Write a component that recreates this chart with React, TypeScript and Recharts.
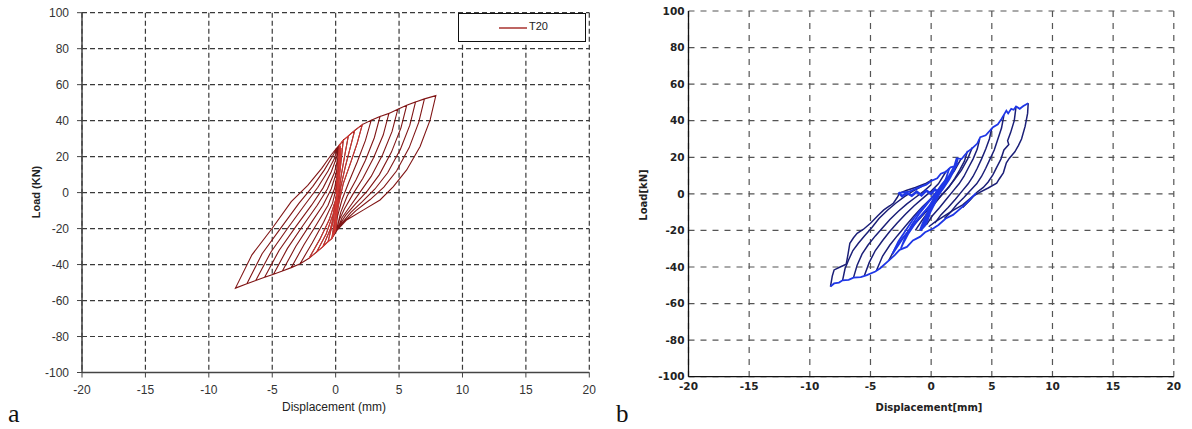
import React from 'react';
import { LineChart, Line, XAxis, YAxis, CartesianGrid, Legend } from 'recharts';

type P = [number, number];

// ---------- shared axis ticks ----------
const xTicks = [-20, -15, -10, -5, 0, 5, 10, 15, 20];
const yTicks = [-100, -80, -60, -40, -20, 0, 20, 40, 60, 80, 100];

// ---------- panel a : T20 ----------
const seriesNameA = 'T20';
const upperEnvA: P[] = [[0.3, 26.5], [0.6, 29], [1.0, 31.5], [1.5, 34.5], [2.1, 37.8], [2.8, 40.2], [3.5, 42.3], [4.2, 44.0], [4.9, 46.3], [5.6, 48.5], [6.3, 50.4], [7.0, 52.1], [7.9, 53.9]];
const lowerEnvA: P[] = [[-0.3, -25.5], [-0.6, -27.3], [-1.0, -30], [-1.5, -33], [-2.1, -36.5], [-2.8, -39.5], [-3.5, -41.7], [-4.2, -43.6], [-4.9, -45.4], [-5.6, -47.1], [-6.3, -48.9], [-7.0, -50.7], [-7.9, -53.1]];

const unloadA01: P[] = [[0.2, 14], [0.1, 0], [0, -12], [-0.1, -21]];
const unloadA02: P[] = [[0.45, 19], [0.25, 6], [0.1, -6], [-0.05, -20]];
const unloadA03: P[] = [[0.75, 22], [0.45, 10], [0.2, -2], [0.05, -12], [-0.05, -21]];
const unloadA04: P[] = [[1.15, 25], [0.75, 14], [0.4, 3], [0.15, -8], [0, -21]];
const unloadA05: P[] = [[1.7, 27.5], [1.15, 16], [0.6, 5], [0.25, -6], [0.05, -14], [0, -21]];
const unloadA06: P[] = [[2.35, 29], [1.7, 17], [1.05, 6], [0.5, -4], [0.15, -13], [0, -21]];
const unloadA07: P[] = [[3.05, 30.5], [2.35, 18], [1.6, 7], [0.9, -2], [0.4, -11], [0.05, -21]];
const unloadA08: P[] = [[3.75, 32], [3.0, 19.5], [2.15, 8], [1.35, -1], [0.7, -9], [0.3, -15], [0.05, -21]];
const unloadA09: P[] = [[4.45, 34], [3.7, 21], [2.8, 9], [1.9, 0], [1.1, -8], [0.5, -14], [0.1, -21]];
const unloadA10: P[] = [[5.15, 36], [4.4, 22.5], [3.45, 10], [2.5, 1], [1.6, -6], [0.8, -12.5], [0.3, -18], [0.1, -21]];
const unloadA11: P[] = [[5.85, 37.5], [5.1, 24], [4.1, 11], [3.1, 2], [2.1, -5], [1.2, -11], [0.5, -17], [0.1, -21]];
const unloadA12: P[] = [[6.55, 39], [5.8, 25], [4.8, 12], [3.8, 3], [2.7, -4], [1.6, -10], [0.7, -16], [0.1, -21]];
const unloadA13: P[] = [[7.45, 40.4], [6.66, 25.6], [5.6, 12.6], [4.55, 3.3], [3.5, -4.1], [2.2, -9.6], [0.87, -15.2], [0.1, -21]];

const reloadA01: P[] = [[0, -12], [0.2, 4], [0.35, 24.5]];
const reloadA02: P[] = [[-0.2, -16], [0.1, -2], [0.3, 12], [0.4, 24.5]];
const reloadA03: P[] = [[-0.4, -20], [0, -8], [0.25, 6], [0.4, 24.5]];
const reloadA04: P[] = [[-0.75, -23], [-0.2, -12], [0.15, 0], [0.3, 12], [0.4, 24.5]];
const reloadA05: P[] = [[-1.25, -26], [-0.5, -15], [0, -4], [0.25, 8], [0.35, 24.5]];
const reloadA06: P[] = [[-1.85, -28], [-0.95, -16.5], [-0.25, -6], [0.1, 4], [0.25, 14], [0.35, 24.5]];
const reloadA07: P[] = [[-2.5, -29], [-1.45, -17], [-0.6, -7], [-0.1, 2], [0.15, 11], [0.3, 24.5]];
const reloadA08: P[] = [[-3.15, -30], [-2.0, -17.5], [-1.0, -7], [-0.35, 2], [0.05, 11], [0.2, 18], [0.3, 24.5]];
const reloadA09: P[] = [[-3.8, -31], [-2.55, -18], [-1.45, -7], [-0.65, 2], [-0.1, 11], [0.15, 18.5], [0.25, 24.5]];
const reloadA10: P[] = [[-4.45, -32], [-3.1, -18.5], [-1.9, -7], [-1.0, 2.5], [-0.35, 11.5], [0.05, 19], [0.2, 24.5]];
const reloadA11: P[] = [[-5.1, -33], [-3.7, -19], [-2.4, -6.5], [-1.4, 3], [-0.6, 12], [-0.1, 19], [0.15, 24.5]];
const reloadA12: P[] = [[-5.8, -34], [-4.3, -19.5], [-2.9, -6], [-1.8, 3.5], [-0.9, 12.5], [-0.3, 19.5], [0.1, 24.5]];
const reloadA13: P[] = [[-6.6, -34.6], [-5.0, -19.8], [-3.5, -5], [-2.2, 4], [-1.1, 13.5], [-0.4, 20.5], [0.05, 24.5], [0.6, 29], [1.0, 31.5]];

const unloadsA = [unloadA01, unloadA02, unloadA03, unloadA04, unloadA05, unloadA06, unloadA07, unloadA08, unloadA09, unloadA10, unloadA11, unloadA12, unloadA13];
const reloadsA = [reloadA01, reloadA02, reloadA03, reloadA04, reloadA05, reloadA06, reloadA07, reloadA08, reloadA09, reloadA10, reloadA11, reloadA12, reloadA13];

// ---------- panel b ----------
const blueUnload9: P[] = [[8.0, 49.6], [7.95, 44], [7.75, 37], [7.45, 30], [7.2, 26.5], [6.9, 23], [6.45, 19.5], [6.2, 17], [5.95, 11.5], [5.6, 8], [5.4, 5.8], [4.7, 3.2], [4.0, 0.8], [3.4, -1.5], [2.6, -6], [1.8, -9], [1.0, -12.4], [0.3, -15.5], [-0.2, -18]];
const blueUnload8: P[] = [[7.0, 47.8], [6.85, 40], [6.55, 33.5], [6.3, 29], [6.4, 27], [6.0, 24], [5.75, 19], [5.4, 14.5], [5.1, 10.5], [4.7, 6.5], [4.3, 3.5], [3.8, 1.0], [3.2, -3.5], [2.6, -7.5]];
const blueUnload7: P[] = [[6.0, 43], [5.8, 36], [5.5, 30], [5.2, 24], [4.85, 19], [4.5, 14], [4.15, 9.5], [3.75, 5.5], [3.25, 2], [2.7, -2], [2.1, -6], [1.6, -10], [1.1, -13.5]];
const blueUnload6: P[] = [[5.0, 36], [4.8, 30], [4.5, 24.5], [4.15, 19], [3.8, 14], [3.45, 9.5], [3.05, 5.5], [2.55, 1.5], [2.0, -3], [1.4, -7.5], [0.8, -11.5], [0.3, -16]];
const blueUnload5: P[] = [[4.0, 30], [3.8, 24.5], [3.45, 19], [3.05, 14], [2.7, 9.5], [2.3, 5.5], [1.8, 1.5], [1.25, -3], [0.7, -7.5], [0.1, -12], [-0.4, -17]];
const blueUnload4: P[] = [[3.0, 23.5], [2.75, 18], [2.35, 13], [1.95, 8.5], [1.5, 4], [0.95, 0], [0.4, -4.5], [-0.2, -9.5], [-0.8, -15], [-1.3, -20]];

const blueReload9: P[] = [[-8.3, -50.7], [-8.15, -45], [-8.0, -41.6], [-7.5, -40], [-7.0, -38.5], [-6.85, -33], [-6.7, -27], [-6.4, -24], [-6.1, -21.6], [-5.6, -19.5], [-5.0, -16.1], [-4.4, -12], [-3.9, -8.8], [-3.4, -6.5], [-3.1, -5], [-2.8, -2], [-2.6, 0.4], [-2.0, 2], [-1.3, 3.5], [-0.5, 5.5], [0.1, 7.7]];
const blueReload8: P[] = [[-7.3, -47.3], [-7.1, -41], [-6.8, -36], [-6.45, -31], [-6.0, -27], [-5.5, -23], [-4.9, -18.5], [-4.3, -13.5], [-3.6, -9], [-2.9, -5], [-2.2, -1.5], [-1.5, 1.5], [-0.8, 4]];
const blueReload7: P[] = [[-6.4, -45.8], [-6.1, -39], [-5.7, -33], [-5.2, -28], [-4.6, -23], [-4.0, -18.5], [-3.4, -14], [-2.7, -9.5], [-2.0, -5.5], [-1.3, -2], [-0.6, 1.5], [0, 5]];
const blueReload6: P[] = [[-5.5, -44.6], [-5.1, -37.5], [-4.6, -31], [-4.0, -25.5], [-3.4, -20.5], [-2.8, -16], [-2.1, -11], [-1.4, -6.5], [-0.7, -2.5], [0, 1.5], [0.6, 5.5], [1.25, 12.5]];
const blueReload5: P[] = [[-4.5, -41.8], [-4.0, -34], [-3.4, -28], [-2.8, -23], [-2.1, -17.5], [-1.4, -12], [-0.7, -7], [0, -2.5], [0.7, 2.5], [1.3, 7.5], [1.9, 12.5], [2.5, 19.5]];
const blueReload4: P[] = [[-3.5, -36.5], [-2.9, -29], [-2.2, -23], [-1.5, -17.5], [-0.8, -12.5], [-0.1, -7.5], [0.6, -2.5], [1.3, 2.5], [1.9, 7.5], [2.5, 13], [3.0, 19], [3.4, 25.5]];

const blueEdgeUpper: P[] = [[-2.6, 0.5], [-1.8, 1.2], [-1.0, 3.5], [-0.4, 5], [0, 7], [0.5, 8.5], [0.8, 11], [1.2, 12], [1.6, 14.5], [1.9, 15], [2.1, 19.5], [2.5, 19], [3.0, 23], [3.4, 25], [3.8, 27.5], [4.05, 31], [4.5, 32], [5.1, 36.5], [5.5, 38], [5.8, 41], [6.2, 45.5], [6.35, 44], [6.6, 46.5], [6.8, 46], [7.0, 47.8], [7.3, 46.5], [7.6, 48], [8.0, 49.6]];
const blueEdgeLower: P[] = [[3.7, 0.4], [3.2, -3], [2.6, -7], [1.8, -11.5], [1.2, -13.5], [0.6, -17], [0.2, -18.8], [-0.5, -21], [-0.9, -23.4], [-1.5, -25.5], [-2.0, -29], [-2.6, -30.6], [-3.0, -33.5], [-3.5, -36.5], [-4.2, -40.7], [-4.6, -42.5], [-5.3, -44.4], [-5.8, -45.5], [-6.4, -45.8], [-6.8, -47], [-7.3, -47.3], [-7.6, -48.5], [-8.0, -49], [-8.3, -50.7]];
const blueCluster: P[] = [[-2.7, 0.8], [-2.4, -1.2], [-2.0, 0.5], [-1.6, -1], [-1.2, 1.2], [-0.8, -0.8], [-0.4, 1.8], [0, 0], [0.3, 2.5], [0.6, 0.8], [0.9, 3], [0.5, -2], [0.2, -6], [-0.1, -10], [-0.3, -14], [-0.5, -17], [-0.9, -20], [-0.6, -15], [-0.2, -9], [0.2, -3], [0.5, 1], [0.9, 5], [1.3, 8], [0.9, 3], [0.4, -3], [0, -8], [-0.4, -13], [-0.8, -18]];
const blueSmall1: P[] = [[1.5, 14], [1.2, 8], [0.8, 3], [0.3, -2], [-0.2, -7], [-0.8, -12], [-1.4, -17], [-1.9, -22], [-2.3, -27], [-2.5, -30], [-2.1, -23], [-1.6, -17], [-1.0, -11], [-0.4, -6], [0.2, -1], [0.8, 4], [1.4, 9], [1.9, 15]];
const blueSmall2: P[] = [[2.2, 19], [1.9, 13], [1.5, 8], [1.0, 3], [0.4, -2], [-0.3, -8], [-1.0, -13], [-1.7, -19], [-2.3, -24], [-2.9, -30], [-3.2, -33], [-2.7, -26], [-2.1, -20], [-1.5, -14], [-0.9, -9], [-0.2, -4], [0.5, 1], [1.1, 6], [1.7, 11], [2.2, 17]];

const navyBranches = [blueUnload4, blueUnload5, blueUnload6, blueUnload7, blueUnload8, blueUnload9, blueReload4, blueReload5, blueReload6, blueReload7, blueReload8, blueReload9];
const brightBranches = [blueSmall1, blueSmall2, blueEdgeLower, blueEdgeUpper];

// ---------- helpers ----------
const toPts = (arr: P[]) => arr.map(([x, y]) => ({ x, y }));

function buildPathA(nCycles: number): { x: number; y: number }[] {
  const out: P[] = [[0, 0]];
  for (let i = 0; i < nCycles; i++) {
    out.push(...upperEnvA.slice(0, i + 1));
    out.push(...unloadsA[i]);
    out.push(...lowerEnvA.slice(0, i + 1));
    out.push(...reloadsA[i]);
  }
  return toPts(out);
}
const pathA = buildPathA(unloadsA.length);
const pathAInner = buildPathA(5);

const LegendA = (props: any) => {
  const first = props?.payload?.find((p: any) => p.value === seriesNameA);
  const name = first?.value ?? seriesNameA;
  return (
    <div style={{ width: 128, height: 29, border: '1.5px solid #111', background: '#fff', boxSizing: 'border-box', position: 'relative' }}>
      <svg style={{ position: 'absolute', left: 40, top: 12 }} width={28} height={4}>
        <line x1={0} y1={2} x2={28} y2={2} stroke="#a8332f" strokeWidth={1.5} />
      </svg>
      <span style={{ position: 'absolute', left: 70, top: 6, fontSize: 11, fontFamily: "'Liberation Sans', Arial, sans-serif", color: '#222' }}>{name}</span>
    </div>
  );
};

const fontA = "'Liberation Sans', Arial, sans-serif";
const fontB = "'DejaVu Sans', Verdana, sans-serif";

export default function App() {
  return (
    <div style={{ position: 'fixed', left: 0, top: 0, width: 1192, height: 429, background: '#fff', overflow: 'hidden' }}>
      {/* Panel a */}
      <div style={{ position: 'absolute', left: 0, top: 0 }}>
        <LineChart width={600} height={429} margin={{ top: 12.7, right: 10.7, bottom: 26.5, left: 0 }}>
          <CartesianGrid stroke="#3a3a3a" strokeDasharray="5 3" strokeWidth={1.2} />
          <XAxis type="number" dataKey="x" domain={[-20, 20]} ticks={xTicks} interval={0} allowDataOverflow height={30}
            tickSize={5} tickMargin={8} axisLine={{ stroke: '#444', strokeWidth: 1.5 }} tickLine={{ stroke: '#444' }}
            tick={{ fontSize: 12, fill: '#333', fontFamily: fontA }} />
          <YAxis type="number" dataKey="y" domain={[-100, 100]} ticks={yTicks} interval={0} allowDataOverflow width={82}
            tickSize={5} tickMargin={8} axisLine={{ stroke: '#444', strokeWidth: 1.5 }} tickLine={{ stroke: '#444' }}
            tick={{ fontSize: 12, fill: '#333', fontFamily: fontA }} />
          <Line data={pathA} dataKey="y" name={seriesNameA} type="linear" stroke="#801515" strokeWidth={1.1} dot={false} isAnimationActive={false} />
          <Line data={pathAInner} dataKey="y" name="T20 inner" legendType="none" type="linear" stroke="#d23a34" strokeWidth={0.9} dot={false} isAnimationActive={false} />
          <Legend content={<LegendA />} layout="vertical" align="center" verticalAlign="middle"
            wrapperStyle={{ left: 458, top: 12.7, width: 128, height: 29 }} />
        </LineChart>
      </div>

      {/* Panel b */}
      <div style={{ position: 'absolute', left: 600, top: 0 }}>
        <LineChart width={592} height={429} margin={{ top: 11, right: 18.2, bottom: 26.3, left: 0 }}>
          <CartesianGrid stroke="#555" strokeDasharray="6 6" strokeWidth={1.2} />
          <XAxis type="number" dataKey="x" domain={[-20, 20]} ticks={xTicks} interval={0} allowDataOverflow height={26}
            tickSize={0} tickMargin={6} axisLine={{ stroke: '#111', strokeWidth: 1.3 }} tickLine={false}
            tick={{ fontSize: 10.5, fill: '#222', fontFamily: fontB, fontWeight: 'bold' }} />
          <YAxis type="number" dataKey="y" domain={[-100, 100]} ticks={yTicks} interval={0} allowDataOverflow width={88.5}
            tickSize={0} tickMargin={4} axisLine={{ stroke: '#111', strokeWidth: 1.3 }} tickLine={false}
            tick={{ fontSize: 10.5, fill: '#222', fontFamily: fontB, fontWeight: 'bold' }} />
          <XAxis xAxisId="inB" type="number" dataKey="x" domain={[-20, 20]} ticks={xTicks} interval={0} allowDataOverflow height={0}
            mirror tick={false} tickSize={4} axisLine={false} tickLine={{ stroke: '#111' }} />
          <XAxis xAxisId="inT" orientation="top" type="number" dataKey="x" domain={[-20, 20]} ticks={xTicks} interval={0} allowDataOverflow height={0}
            mirror tick={false} tickSize={4} axisLine={{ stroke: '#111', strokeWidth: 1.3 }} tickLine={{ stroke: '#111' }} />
          <YAxis yAxisId="inL" type="number" dataKey="y" domain={[-100, 100]} ticks={yTicks} interval={0} allowDataOverflow width={0}
            mirror tick={false} tickSize={4} axisLine={false} tickLine={{ stroke: '#111' }} />
          <YAxis yAxisId="inR" orientation="right" type="number" dataKey="y" domain={[-100, 100]} ticks={yTicks} interval={0} allowDataOverflow width={0}
            mirror tick={false} tickSize={4} axisLine={{ stroke: '#111', strokeWidth: 1.3 }} tickLine={{ stroke: '#111' }} />
          {navyBranches.map((b, i) => (
            <Line key={'n' + i} data={toPts(b)} dataKey="y" type="linear" stroke="#1b1f78" strokeWidth={1.5} dot={false} isAnimationActive={false} legendType="none" />
          ))}
          {brightBranches.map((b, i) => (
            <Line key={'b' + i} data={toPts(b)} dataKey="y" type="linear" stroke="#1f37e6" strokeWidth={1.8} dot={false} isAnimationActive={false} legendType="none" />
          ))}
          <Line data={toPts(blueCluster)} dataKey="y" type="linear" stroke="#1f37e6" strokeWidth={2.6} dot={false} isAnimationActive={false} legendType="none" />
        </LineChart>
      </div>

      {/* titles and panel letters */}
      <svg width={1192} height={429} style={{ position: 'absolute', left: 0, top: 0, pointerEvents: 'none' }}>
        <text x={36} y={192} transform="rotate(-90 36 192)" textAnchor="middle" dominantBaseline="central"
          fontFamily={fontA} fontWeight="bold" fontSize={11} fill="#222">Load (KN)</text>
        <text x={334} y={407} textAnchor="middle" dominantBaseline="central" fontFamily={fontA} fontSize={12} fill="#222">Displacement (mm)</text>
        <text x={643.5} y={195} transform="rotate(-90 643.5 195)" textAnchor="middle" dominantBaseline="central"
          fontFamily={fontB} fontWeight="bold" fontSize={10} fill="#222">Load[kN]</text>
        <text x={929} y={407} textAnchor="middle" dominantBaseline="central" fontFamily={fontB} fontWeight="bold" fontSize={10} fill="#222">Displacement[mm]</text>
        <text x={8} y={422} fontFamily="'Liberation Serif', 'Times New Roman', serif" fontSize={26} fill="#111">a</text>
        <text x={616} y={422} fontFamily="'Liberation Serif', 'Times New Roman', serif" fontSize={25} fill="#111">b</text>
      </svg>
    </div>
  );
}
